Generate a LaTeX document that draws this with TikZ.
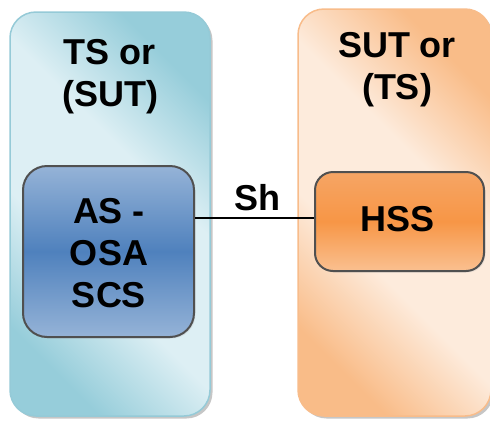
\documentclass[tikz,border=0pt]{standalone}
\usepackage{fontspec}
\setmainfont{Liberation Sans}
\usetikzlibrary{shadows}
\definecolor{tslight}{HTML}{DDEFF4}
\definecolor{tsdark}{HTML}{96CDDA}
\definecolor{tsborder}{HTML}{95CAD7}
\definecolor{sutlight}{HTML}{FDEBDC}
\definecolor{sutdark}{HTML}{F9BC88}
\definecolor{sutborder}{HTML}{F8BC8A}
\definecolor{astop}{HTML}{95B3D7}
\definecolor{asmid}{HTML}{4F81BD}
\definecolor{hsstop}{HTML}{F6A565}
\definecolor{hssmid}{HTML}{F79646}
\definecolor{hssbot}{HTML}{FAC090}
\definecolor{edgegray}{HTML}{505050}
\pgfdeclareverticalshading{tsshade}{100bp}{color(0bp)=(tsdark); color(25bp)=(tsdark);
  color(41bp)=(tslight); color(59bp)=(tslight); color(75bp)=(tsdark); color(100bp)=(tsdark)}
\pgfdeclareverticalshading{sutshade}{100bp}{color(0bp)=(sutdark); color(25bp)=(sutdark);
  color(41bp)=(sutlight); color(59bp)=(sutlight); color(75bp)=(sutdark); color(100bp)=(sutdark)}
\tikzset{
  bigbox/.style={rectangle, rounded corners=26pt, inner sep=0pt, line width=1.5pt,
    drop shadow={shadow xshift=2.5pt, shadow yshift=-2.5pt, fill=black!50, opacity=.45}},
  innerbox/.style={rectangle, inner sep=0pt, draw=edgegray, line width=2pt,
    drop shadow={shadow xshift=1.5pt, shadow yshift=-1.5pt, fill=black!30, opacity=.25}},
  lbl/.style={font=\fontsize{36}{42}\selectfont\bfseries, align=center, inner sep=0pt, anchor=north},
  link/.style={draw=black, line width=2pt}
}
\begin{document}
\begin{tikzpicture}[x=1pt,y=-1pt]
\useasboundingbox (0,0) rectangle (490,421);
% big boxes
\node[bigbox, draw=tsborder, shading=tsshade, shading angle=-45,
  minimum width=200pt, minimum height=404pt] (ts) at (110,214) {};
\node[bigbox, draw=sutborder, shading=sutshade, shading angle=-45,
  minimum width=193pt, minimum height=407pt] (sut) at (394.5,212.5) {};
% inner boxes
\node[innerbox, rounded corners=24pt, top color=astop, bottom color=astop, middle color=asmid,
  minimum width=171pt, minimum height=171pt] (as) at (108.5,251.5) {};
\node[innerbox, rounded corners=18pt, top color=hsstop, bottom color=hssbot, middle color=hssmid,
  minimum width=169pt, minimum height=99pt] (hss) at (399.5,221.5) {};
% labels
\node[lbl] (tslbl) at (110,39.5) {TS or\\(SUT)};
\node[lbl] (sutlbl) at (397,32.5) {SUT or\\(TS)};
\node[lbl] (aslbl) at (109,198.5) {AS -\\OSA\\SCS};
\node[lbl] (hsslbl) at (398,206.5) {HSS};
% connector
\draw[link] ([yshift=33.5pt]as.east) -- ([yshift=33.5pt]as.east -| hss.west);
\node[font=\fontsize{36}{42}\selectfont\bfseries, inner sep=0pt, anchor=base] (sh) at (257.5,210) {Sh};
\end{tikzpicture}
\end{document}
